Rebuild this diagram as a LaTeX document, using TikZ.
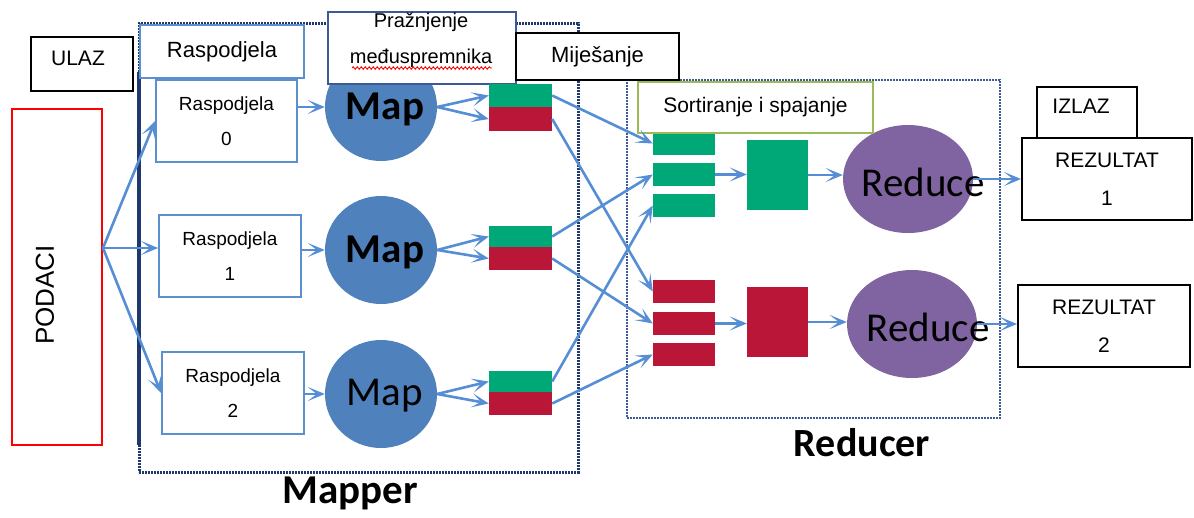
\documentclass[tikz,border=0pt]{standalone}
\usepackage{fontspec}
\setmainfont{Liberation Sans}
\newfontfamily\calfont{Carlito}
\usetikzlibrary{arrows.meta,shapes.geometric,decorations.pathmorphing}
\definecolor{arrowblue}{RGB}{85,142,213}
\definecolor{boxblue}{RGB}{91,143,208}
\definecolor{mapblue}{RGB}{79,129,189}
\definecolor{redpurple}{RGB}{128,100,162}
\definecolor{bgreen}{RGB}{0,168,120}
\definecolor{bred}{RGB}{186,22,55}
\definecolor{navyline}{RGB}{31,56,110}
\definecolor{dotblue}{RGB}{60,90,150}
\definecolor{olivebox}{RGB}{155,187,89}
\begin{document}
\begin{tikzpicture}[x=1pt,y=-1pt,
  box/.style={draw, fill=white, inner sep=0pt, line width=1.3pt},
  bluebox/.style={box, draw=boxblue, line width=1.8pt},
  blackbox/.style={box, draw=black, line width=2pt},
  txt/.style={inner sep=0pt, font=\fontsize{21}{25}\selectfont},
  mapnode/.style={ellipse, fill=mapblue, minimum width=112, minimum height=108, inner sep=0pt},
  rednode/.style={ellipse, fill=redpurple, minimum width=130, minimum height=108, inner sep=0pt},
  bar/.style={rectangle, inner sep=0pt, minimum width=62, minimum height=23},
  arr/.style={draw=arrowblue, line width=2.6pt, -{Stealth[length=17pt,width=14pt,inset=9pt]}},
  grp/.style={rectangle, inner sep=0pt, draw, dash pattern=on 2pt off 1pt}
]
\useasboundingbox[fill=white] (0,0) rectangle (1194,517);

% group boxes
\node[grp, draw=navyline, line width=3pt, minimum width=439, minimum height=449] (mapper) at (358.5,247.5) {};
\draw[navyline, line width=3.4pt] (139,72) -- (139,445);
\node[grp, draw=dotblue, line width=2.6pt, minimum width=373, minimum height=338] (reducer) at (813.5,249) {};
\node[font=\calfont\bfseries\fontsize{41}{45}\selectfont, inner sep=0pt] (mapperlbl) at (350,493) {Mapper};
\node[font=\calfont\bfseries\fontsize{40}{45}\selectfont, inner sep=0pt] (reducerlbl) at (862,443) {Reducer};

% input
\node[blackbox, minimum width=102, minimum height=54] (ulazbox) at (82,64) {};
\node[txt] (ulaz) at (78,58) {ULAZ};
\node[box, draw=red, line width=1.8pt, minimum width=90, minimum height=336] (podaci) at (57,277) {};
\node[txt, rotate=90, font=\fontsize{26}{30}\selectfont] (podacit) at (45,295) {PODACI};

% partitions
\node[bluebox, minimum width=141, minimum height=82, align=center, font=\fontsize{19}{35}\selectfont] (r0) at (226.5,121) {Raspodjela\\0};
\node[bluebox, minimum width=142, minimum height=82, align=center, font=\fontsize{19}{35}\selectfont] (r1) at (230,256) {Raspodjela\\1};
\node[bluebox, minimum width=142, minimum height=82, align=center, font=\fontsize{19}{35}\selectfont] (r2) at (233,393) {Raspodjela\\2};

% maps
\node[mapnode] (map0) at (381,107) {};
\node[mapnode] (map1) at (381,250) {};
\node[mapnode] (map2) at (381,394) {};
\node[inner sep=0pt, font=\calfont\bfseries\fontsize{41}{45}\selectfont] (map0t) at (385,109) {Map};
\node[inner sep=0pt, font=\calfont\bfseries\fontsize{41}{45}\selectfont] (map1t) at (385,252) {Map};
\node[inner sep=0pt, font=\calfont\fontsize{41}{45}\selectfont] (map2t) at (385,396) {Map};

% headers
\node[bluebox, minimum width=164, minimum height=53, font=\fontsize{22}{26}\selectfont] (hrasp) at (222,51.5) {Raspodjela};
\node[box, draw=dotblue, line width=1.8pt, minimum width=188, minimum height=72] (prazbox) at (422,48) {};
\node[txt, align=center, font=\fontsize{20}{36}\selectfont] (praz) at (421,40) {Pražnjenje\\međuspremnika};
\draw[red, line width=0.9pt, decorate, decoration={snake, amplitude=1.2pt, segment length=4pt}] (352,68) -- (492,68);
\node[blackbox, minimum width=163, minimum height=47, font=\fontsize{22}{26}\selectfont] (mijes) at (597.5,56.5) {Miješanje};

% buffers
\node[bar, fill=bgreen, minimum width=63, minimum height=23] (g0) at (520.5,95.5) {};
\node[bar, fill=bred, minimum width=63, minimum height=24] (d0) at (520.5,119) {};
\node[bar, fill=bgreen, minimum width=63, minimum height=21] (g1) at (520.5,236.5) {};
\node[bar, fill=bred, minimum width=63, minimum height=23] (d1) at (520.5,258.5) {};
\node[bar, fill=bgreen, minimum width=63, minimum height=21] (g2) at (520.5,381.5) {};
\node[bar, fill=bred, minimum width=63, minimum height=23] (d2) at (520.5,403.5) {};

% reducer parts
\node[bar, fill=bgreen] (sg1) at (684,143.5) {};
\node[bar, fill=bgreen] (sg2) at (684,174.5) {};
\node[bar, fill=bgreen] (sg3) at (684,205.5) {};
\node[bar, fill=bred] (sr1) at (684,291.5) {};
\node[bar, fill=bred] (sr2) at (684,323.5) {};
\node[bar, fill=bred] (sr3) at (684,354.5) {};
\node[bar, fill=bgreen, minimum width=61, minimum height=70] (bg) at (777.5,175) {};
\node[bar, fill=bred, minimum width=61, minimum height=70] (br) at (777.5,322) {};
\node[rednode] (red1) at (908,179) {};
\node[rednode] (red2) at (912,324) {};
\node[inner sep=0pt, font=\calfont\fontsize{41}{45}\selectfont] (red1t) at (923,182) {Reduce};
\node[inner sep=0pt, font=\calfont\fontsize{41}{45}\selectfont] (red2t) at (928,327) {Reduce};
\node[box, draw=olivebox, line width=1.8pt, minimum width=235, minimum height=51, font=\fontsize{21}{25}\selectfont] (sort) at (755.5,107.5) {Sortiranje i spajanje};

% output
\node[blackbox, minimum width=100, minimum height=51] (izlazbox) at (1087,112.5) {};
\node[txt] (izlaz) at (1081,106) {IZLAZ};
\node[blackbox, minimum width=170, minimum height=82, align=center, font=\fontsize{21}{38}\selectfont] (rez1) at (1107,179) {REZULTAT\\1};
\node[blackbox, minimum width=172, minimum height=82, align=center, font=\fontsize{21}{38}\selectfont] (rez2) at (1104,326) {REZULTAT\\2};

% connectors
\coordinate (src) at (103,248);
\draw[arr] (src) -- (r0.west);
\draw[arr] (src) -- (src -| r1.west);
\draw[arr] (src) -- (r2.west);
\draw[arr] (r0.east |- map0.west) -- (map0.west);
\draw[arr] (r1.east |- map1.west) -- (map1.west);
\draw[arr] (r2.east |- map2.west) -- (map2.west);
\draw[arr] (map0.east) -- (g0.west);
\draw[arr] (map0.east) -- (d0.west);
\draw[arr] (map1.east) -- (g1.west);
\draw[arr] (map1.east) -- (d1.west);
\draw[arr] (map2.east) -- (g2.west);
\draw[arr] (map2.east) -- (d2.west);
\draw[arr] (g0.east) -- (sg1.west);
\draw[arr] (d0.east) -- (sr1.west);
\draw[arr] (g1.east) -- (sg2.west);
\draw[arr] (d1.east) -- (sr2.west);
\draw[arr] (g2.east) -- (sg3.west);
\draw[arr] (d2.east) -- (sr3.west);
\draw[arr] (sg2.east) -- (sg2.east -| bg.west);
\draw[arr] (bg.east) -- (bg.east -| red1.west);
\draw[arr] (red1.east) -- (rez1.west);
\draw[arr] (sr2.east) -- (sr2.east -| br.west);
\draw[arr] (br.east) -- (br.east -| red2.west);
\draw[arr] (red2.east) -- (red2.east -| rez2.west);
\end{tikzpicture}
\end{document}
